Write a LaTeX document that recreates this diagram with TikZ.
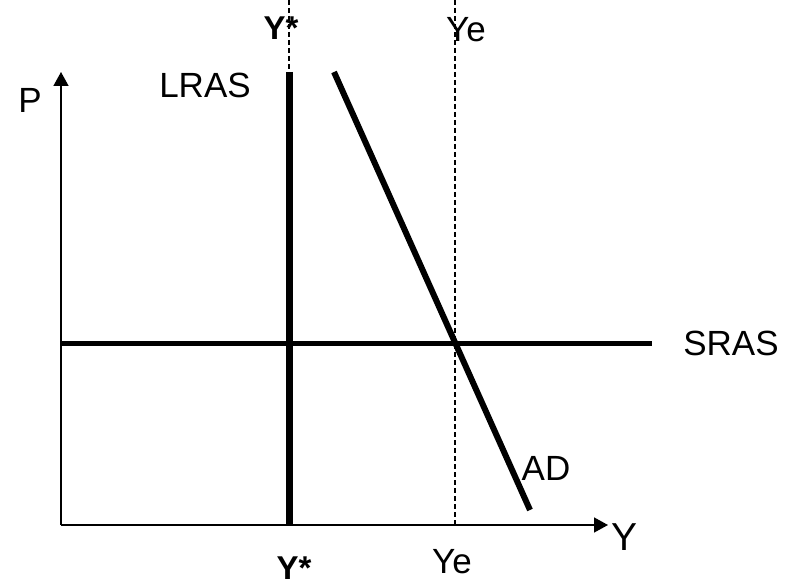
\documentclass[tikz,border=0pt]{standalone}
\usepackage{fontspec}
\setmainfont{Liberation Sans}
\usetikzlibrary{arrows.meta}
\begin{document}
\begin{tikzpicture}[x=1pt,y=-1pt,
  lbl/.style={inner sep=0pt,font=\fontsize{35}{35}\selectfont},
  guide/.style={dash pattern=on 5pt off 3pt,line width=1.2pt},
  axis/.style={line width=1.5pt,-{Triangle[length=14pt,width=15pt]}}]
  \useasboundingbox (0,0) rectangle (790,585);
  % Axes
  \coordinate (O) at (61,525);
  \coordinate (ptop) at (61,72);
  \coordinate (yend) at (608,525);
  \draw[axis] (O) -- (ptop);
  \draw[axis] (O) -- (yend);
  % Guide lines through Y* and Ye
  \coordinate (ysT) at (289,0);
  \coordinate (ysM) at (289,72);
  \coordinate (ysB) at (289,525);
  \coordinate (yeT) at (455,0);
  \coordinate (yeB) at (455,525);
  \draw[guide] (ysT) -- (ysM);
  \draw[guide] (yeT) -- (yeB);
  % Curves
  \draw[line width=7pt] (ysM) -- (ysB);
  \coordinate (srasL) at (61,344);
  \coordinate (srasR) at (652,344);
  \draw[line width=5pt] (srasL) -- (srasR);
  \coordinate (adT) at (334,72);
  \coordinate (adB) at (530,510);
  \draw[line width=6pt] (adT) -- (adB);
  % Labels
  \node[lbl] (p) at (30,100) {P};
  \node[lbl] (lras) at (205,85) {LRAS};
  \node[lbl] (sras) at (731,343) {SRAS};
  \node[lbl] (ad) at (546,468) {AD};
  \node[lbl,font=\fontsize{39}{39}\selectfont] (ylbl) at (624,537) {Y};
  \node[lbl,font=\fontsize{33}{33}\selectfont\bfseries] (ystop) at (281,28) {Y*};
  \node[lbl,font=\fontsize{33}{33}\selectfont\bfseries] (ysbot) at (294,568) {Y*};
  \node[lbl] (yetop) at (466,30) {Ye};
  \node[lbl] (yebot) at (452,562) {Ye};
\end{tikzpicture}
\end{document}
